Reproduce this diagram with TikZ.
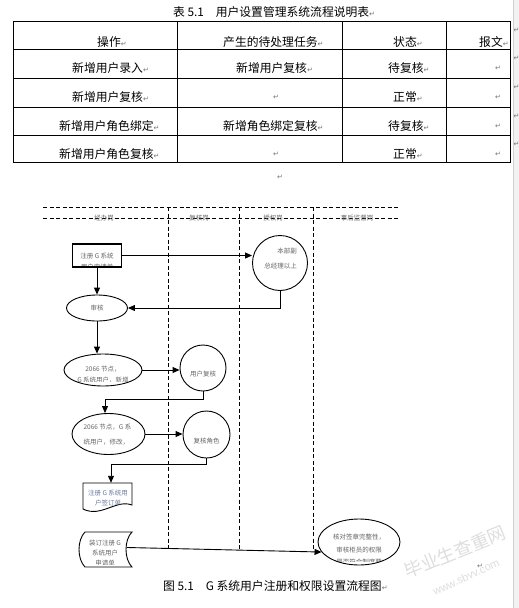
\documentclass[tikz,border=0pt]{standalone}
\usepackage{fontspec}
\setmainfont{Noto Sans CJK SC}
\newfontfamily\dejavu{DejaVu Sans}
\newfontfamily\libsans{Liberation Sans}
\usetikzlibrary{arrows.meta,shapes.geometric}
\newcommand\retmk{{\dejavu\fontsize{7}{7}\selectfont\textcolor{black!55}{↵}}}
\begin{document}
\begin{tikzpicture}[x=1pt,y=-1pt,
  tbl/.style={line width=0.9pt},
  cell/.style={anchor=west, inner sep=0pt, font=\fontsize{11.8}{12}\selectfont},
  lane/.style={line width=0.8pt, dash pattern=on 4pt off 2.5pt},
  ln/.style={line width=0.9pt},
  arr/.style={ln, -{Triangle[length=7pt,width=6pt]}},
  ftxt/.style={font=\fontsize{6.5}{11}\selectfont, text=black!60, inner sep=0pt},
  shp/.style={draw, line width=0.9pt, inner sep=0pt},
  lbl/.style={font=\fontsize{6.5}{7}\selectfont, text=black!60, inner sep=0pt},
  rmk/.style={inner sep=0pt}
]
\fill[white] (0,0) rectangle (519,608);
\useasboundingbox (0,0) rectangle (519,608);
% right page strip
\fill[black!5] (513,0) rectangle (519,608);
\draw[black!18] (513,0) -- (513,608);
\foreach \yy/\nm in {30/o1,58/o2,87/o3,116/o4,144/o5} \node[rmk, anchor=west] (\nm) at (513.5,\yy) {\retmk};

% ---------- table ----------
\node[cell] (title) at (173,12) {表 5.1　用户设置管理系统流程说明表\retmk};
\draw[tbl] (13,21) rectangle (510,162);
\foreach \y in {49,78,107,135} \draw[tbl] (13,\y) -- (510,\y);
\foreach \x in {177,342,446} \draw[tbl] (\x,21) -- (\x,162);

\node[cell] (h1) at (97,42) {操作\retmk};
\node[cell] (h2) at (223,42) {产生的待处理任务\retmk};
\node[cell] (h3) at (393,42) {状态\retmk};
\node[cell] (h4) at (479,42) {报文\retmk};

\node[cell] (a1) at (72,68) {新增用户录入\retmk};
\node[cell] (a2) at (236,68) {新增用户复核\retmk};
\node[cell] (a3) at (388,68) {待复核\retmk};
\node[cell] (a4) at (495,68) {\retmk};

\node[cell] (b1) at (72,97) {新增用户复核\retmk};
\node[cell] (b2) at (273,97) {\retmk};
\node[cell] (b3) at (393,97) {正常\retmk};
\node[cell] (b4) at (495,97) {\retmk};

\node[cell] (c1) at (59,126) {新增用户角色绑定\retmk};
\node[cell] (c2) at (223,126) {新增角色绑定复核\retmk};
\node[cell] (c3) at (388,126) {待复核\retmk};
\node[cell] (c4) at (495,126) {\retmk};

\node[cell] (d1) at (59,154) {新增用户角色复核\retmk};
\node[cell] (d2) at (273,154) {\retmk};
\node[cell] (d3) at (393,154) {正常\retmk};
\node[cell] (d4) at (495,154) {\retmk};

\node[rmk] (gap) at (280,177) {\retmk};

% ---------- swimlanes ----------
\draw[lane] (43,207) -- (400,207);
\draw[lane] (43,218) -- (400,218);
\foreach \x in {168,239.5,313} \draw[lane] (\x,207) -- (\x,550);
\node[lbl] (l1) at (104,218) {经办岗};
\node[lbl] (l2) at (199,218) {复核岗};
\node[lbl] (l3) at (273,218) {授权岗};
\node[lbl] (l4) at (357,218) {事后监督岗};

% ---------- flow nodes ----------
\node[shp, rectangle, line width=1.2pt, minimum width=49pt, minimum height=23pt,
  path picture={\node[ftxt, align=center] at ([yshift=-6pt]path picture bounding box.center) {注册 G 系统\\用户申请单};}] (reg) at (97,255.5) {};

\node[shp, ellipse, minimum width=55pt, minimum height=55pt,
  path picture={\node[ftxt, align=right, font=\fontsize{6.5}{15}\selectfont] at ([xshift=0.5pt,yshift=4.5pt]path picture bounding box.center) {本部副\\总经理以上};}] (boss) at (280,263) {};

\node[shp, ellipse, minimum width=61pt, minimum height=26pt, ftxt] (audit) at (97,308) {审核};

\node[shp, ellipse, minimum width=78pt, minimum height=32pt,
  path picture={\clip (path picture bounding box.north west) rectangle ([yshift=5pt]path picture bounding box.south east);
    \node[ftxt, align=center] at ([yshift=-4.5pt]path picture bounding box.center) {2066 节点，\\G 系统用户，新增};}] (n4) at (103,370) {};

\node[shp, circle, minimum size=46pt,
  path picture={\node[ftxt] at ([yshift=-6pt]path picture bounding box.center) {用户复核};}] (c5) at (203,368) {};

\node[shp, ellipse, minimum width=73pt, minimum height=41pt,
  path picture={\node[ftxt, align=left, font=\fontsize{6.5}{15}\selectfont] at ([xshift=-1pt,yshift=-0.5pt]path picture bounding box.center) {2066 节点，G 系\\统用户，修改，};}] (n6) at (108.5,434) {};

\node[shp, circle, minimum size=47pt,
  path picture={\node[ftxt] at ([yshift=-6.5pt]path picture bounding box.center) {复核角色};}] (c7) at (206.5,434.5) {};

% document shape
\node[inner sep=0pt, minimum width=49pt, minimum height=29pt] (doc) at (107.5,497.5) {};
\draw[ln] (83,483) -- (132,483) -- (132,505) .. controls (116,499) and (101,518) .. (83,509) -- cycle;
\begin{scope}
  \clip (83,483) -- (132,483) -- (132,505) .. controls (116,499) and (101,518) .. (83,509) -- cycle;
  \clip (80,480) rectangle (135,505);
  \node[ftxt, align=center, text={rgb,1:red,0.42;green,0.48;blue,0.62}, font=\fontsize{6.5}{10}\selectfont] (doctext) at (108,498.5) {注册 G 系统用\\户签订单};
\end{scope}

% stored data shape
\node[inner sep=0pt, minimum width=53pt, minimum height=35pt] (store) at (105.5,549.5) {};
\draw[ln] (85,532) -- (132,532) .. controls (124,540) and (124,559) .. (132,567) -- (85,567) .. controls (77,559) and (77,540) .. (85,532) -- cycle;
\begin{scope}
  \clip (80,530) rectangle (135,564);
  \node[ftxt, align=center, font=\fontsize{6.5}{10}\selectfont] (storetext) at (105,553.5) {装订注册 G\\系统用户\\申请单};
\end{scope}

\node[shp, ellipse, minimum width=82pt, minimum height=46pt,
  path picture={\clip (path picture bounding box.north west) rectangle ([yshift=4pt]path picture bounding box.south east);
    \node[ftxt, align=center, font=\fontsize{6.5}{12.5}\selectfont] at ([yshift=-7.5pt]path picture bounding box.center) {核对签章完整性，\\审核柜员的权限\\是否符合制度要};}] (chk) at (359,542) {};

% ---------- connectors ----------
\draw[arr] (reg.east) -- (reg.east -| boss.west);
\draw[arr] (boss.south) -- (boss.south |- audit.east) -- (audit.east);
\draw[arr] (reg.south) -- (audit.north);
\draw[arr] (audit.south) -- (audit.south |- n4.north);
\draw[arr] (n4.east) -- (n4.east -| c5.west);
\draw[arr] (c5.south) -- ++(0,8) -| ([xshift=-3.5pt]n6.north);
\draw[arr] (n6.east) -- (n6.east -| c7.west);
\draw[arr] (c7.south) -- ++(0,6) -| ([xshift=3.5pt]doc.north);
\draw[arr] ([xshift=-5pt,yshift=2pt]store.east) -- (chk.195);

% ---------- caption & watermark ----------
\node[cell] (cap) at (163,586) {图 5.1　G 系统用户注册和权限设置流程图\retmk};
\node[rotate=22, text=black!13, inner sep=0pt, font=\fontsize{18}{18}\selectfont] (wm1) at (455,552) {毕业生查重网};
\node[rotate=25, text=black!13, inner sep=0pt, font=\libsans\fontsize{11}{11}\selectfont] (wm2) at (466,577) {www.sbvv.com};
\node[rmk] (r2) at (480,566) {\retmk};
\end{tikzpicture}
\end{document}
